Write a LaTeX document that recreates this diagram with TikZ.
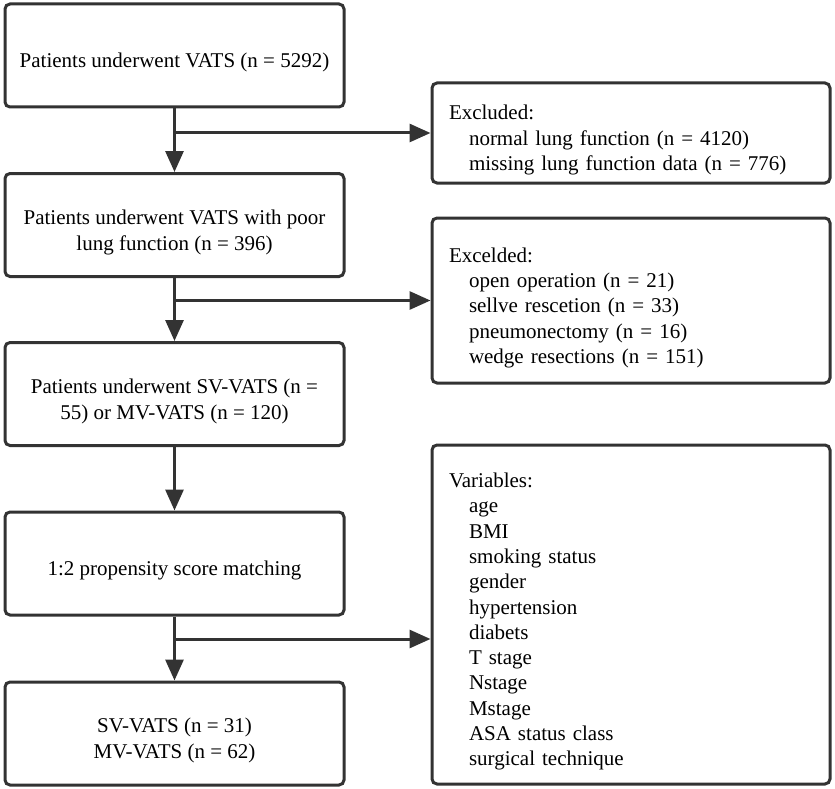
\documentclass[tikz,border=0pt]{standalone}
\usepackage{fontspec}
\setmainfont{Liberation Serif}
\usetikzlibrary{arrows.meta,positioning}
\definecolor{lineGray}{HTML}{333333}
\newcommand{\itm}{\hspace*{20pt}}
\newcommand{\topgap}{\rule{0pt}{29pt}}
\tikzset{
	stageBox/.style={rectangle, rounded corners=5pt, line width=3pt, draw=lineGray, minimum width=339pt, minimum height=103pt, align=center, font=\fontsize{21}{26}\selectfont},
	noteBox/.style={rectangle, rounded corners=5pt, line width=3pt, draw=lineGray, text width=364pt, inner xsep=17pt, align=left, font=\fontsize{21}{25.3}\selectfont, execute at begin node=\topgap},
	flowArrow/.style={-{Triangle[length=21pt, width=18pt]}, line width=3pt, draw=lineGray}
}
\begin{document}
\begin{tikzpicture}[x=1pt, y=-1pt]
	\useasboundingbox (0,0) rectangle (835,789);
	% main column
	\node[stageBox](patientsAll) at (174.5,55.5){\topgap Patients underwent VATS (n = 5292)};
	\node[stageBox](poorLung) at (174.5,225){\topgap Patients underwent VATS with poor\\lung function (n = 396)};
	\node[stageBox](svMv) at (174.5,394){\topgap Patients underwent SV-VATS (n =\\55) or MV-VATS (n = 120)};
	\node[stageBox](psMatch) at (174.5,563.5){\topgap 1:2 propensity score matching};
	\node[stageBox](finalGroups) at (174.5,733.5){\topgap SV-VATS (n = 31)\\MV-VATS (n = 62)};
	% side notes
	\node[noteBox, minimum height=100pt](exclFirst) at (631,133){Excluded:\\\itm normal lung function (n = 4120)\\\itm missing lung function data (n = 776)};
	\node[noteBox, minimum height=165pt](exclSecond) at (631,300.5){Excelded:\\\itm open operation (n = 21)\\\itm sellve rescetion (n = 33)\\\itm pneumonectomy (n = 16)\\\itm wedge resections (n = 151)};
	\node[noteBox, minimum height=339pt](matchVars) at (631,614.5){Variables:\\\itm age\\\itm BMI\\\itm smoking status\\\itm gender\\\itm hypertension\\\itm diabets\\\itm T stage\\\itm Nstage\\\itm Mstage\\\itm ASA status class\\\itm surgical technique};
	% branch points
	\coordinate (splitFirst) at (174.5,133);
	\coordinate (splitSecond) at (174.5,300.5);
	\coordinate (splitThird) at (174.5,639);
	% arrows
	\draw[flowArrow] (patientsAll.south) -- (poorLung.north);
	\draw[flowArrow] (poorLung.south) -- (svMv.north);
	\draw[flowArrow] (svMv.south) -- (psMatch.north);
	\draw[flowArrow] (psMatch.south) -- (finalGroups.north);
	\draw[flowArrow] (splitFirst) -- (exclFirst.west);
	\draw[flowArrow] (splitSecond) -- (exclSecond.west);
	\draw[flowArrow] (splitThird) -- (splitThird -| matchVars.west);
\end{tikzpicture}
\end{document}
